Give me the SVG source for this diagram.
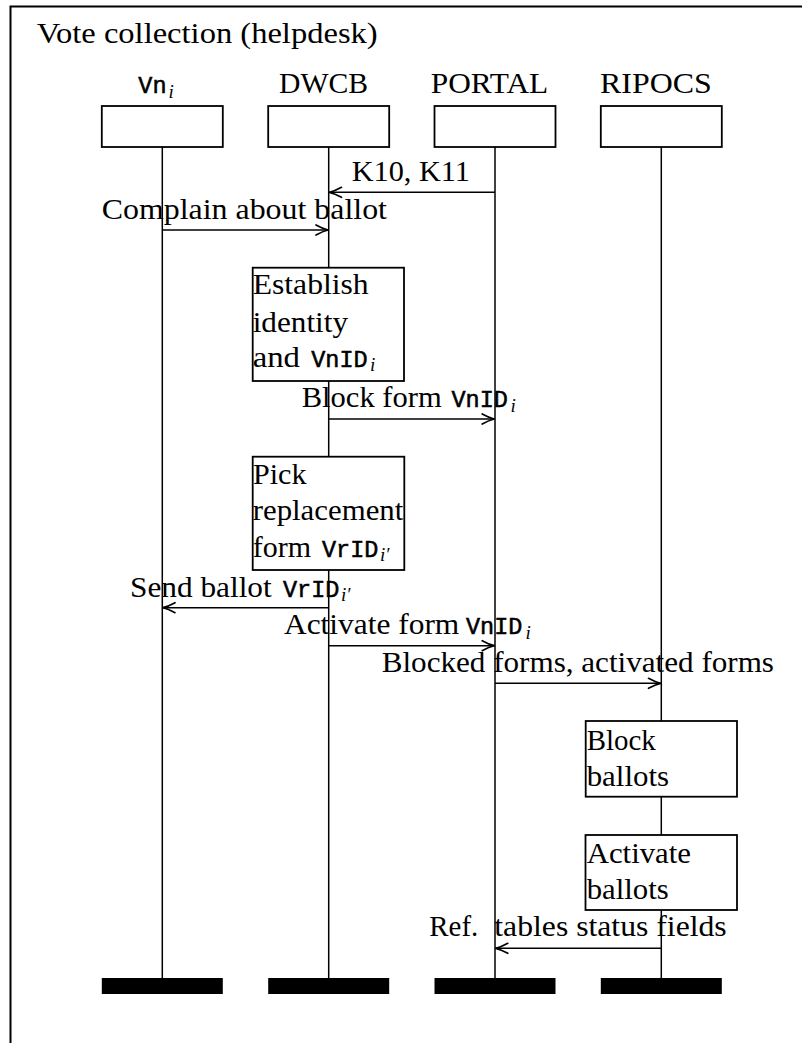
<svg xmlns="http://www.w3.org/2000/svg" width="802" height="1043" viewBox="0 0 802 1043">
  <style>
    .frame { fill: none; stroke: #000; stroke-width: 2; }
    .head { fill: #fff; stroke: #000; stroke-width: 1.8; }
    .act { fill: #fff; stroke: #000; stroke-width: 1.8; }
    .bar { fill: #000; stroke: none; }
    .life { stroke: #000; stroke-width: 1.5; fill: none; }
    .msg { stroke: #000; stroke-width: 1.5; fill: none; marker-end: url(#tip); }
    .t { font-family: "Liberation Serif", "Times New Roman", serif; font-size: 29px; fill: #000; }
    .m { font-family: "Liberation Mono", "DejaVu Sans Mono", monospace; font-size: 23.5px; font-style: normal; fill: #000; stroke: #000; stroke-width: 0.55; }
    .s { font-family: "Liberation Serif", "Times New Roman", serif; font-style: italic; font-size: 19px; fill: #000; stroke: none; }
  </style>
  <defs>
    <!-- curved open arrow tip -->
    <marker id="tip" markerUnits="userSpaceOnUse" viewBox="-13 -7 14 14" refX="0" refY="0" markerWidth="14" markerHeight="14" orient="auto" overflow="visible">
      <path d="M -12,-5 C -8,-2.8 -3.8,-0.9 0,0 C -3.8,0.9 -8,2.8 -12,5" fill="none" stroke="#000" stroke-width="1.7" stroke-linecap="round" stroke-linejoin="round"/>
    </marker>
  </defs>

  <rect x="0" y="0" width="802" height="1043" fill="#fff"/>

  <!-- outer frame, open to the right and bottom -->
  <path class="frame" d="M 10.5,1043 V 6.5 H 802"/>
  <text id="title" class="t" x="36.7" y="43.3" textLength="341" lengthAdjust="spacingAndGlyphs">Vote collection (helpdesk)</text>

  <!-- lifelines -->
  <g id="lifelines">
    <line class="life" x1="162.3" y1="147" x2="162.3" y2="978"/>
    <line class="life" x1="328.7" y1="147" x2="328.7" y2="978"/>
    <line class="life" x1="495" y1="147" x2="495" y2="978"/>
    <line class="life" x1="661.3" y1="147" x2="661.3" y2="978"/>
  </g>

  <!-- participants -->
  <g id="vn">
    <text y="93.3"><tspan class="m" x="138.3">Vn</tspan><tspan class="s" x="168.5" y="97.5">i</tspan></text>
    <rect class="head" x="101.8" y="106" width="121" height="41"/>
    <rect class="bar" x="101.8" y="978" width="121" height="16"/>
  </g>
  <g id="dwcb">
    <text class="t" x="279" y="93.3" textLength="89" lengthAdjust="spacingAndGlyphs">DWCB</text>
    <rect class="head" x="268.2" y="106" width="121" height="41"/>
    <rect class="bar" x="268.2" y="978" width="121" height="16"/>
  </g>
  <g id="portal">
    <text class="t" x="430.7" y="93.3" textLength="117.6" lengthAdjust="spacingAndGlyphs">PORTAL</text>
    <rect class="head" x="434.5" y="106" width="121" height="41"/>
    <rect class="bar" x="434.5" y="978" width="121" height="16"/>
  </g>
  <g id="ripocs">
    <text class="t" x="600" y="93.3" textLength="111.7" lengthAdjust="spacingAndGlyphs">RIPOCS</text>
    <rect class="head" x="600.8" y="106" width="121" height="41"/>
    <rect class="bar" x="600.8" y="978" width="121" height="16"/>
  </g>

  <!-- activity boxes -->
  <g id="establish">
    <rect class="act" x="252.7" y="267.7" width="151.3" height="113.3"/>
    <text class="t" x="252.7" y="294" textLength="116" lengthAdjust="spacingAndGlyphs">Establish</text>
    <text class="t" x="252.7" y="331.7" textLength="95.3" lengthAdjust="spacingAndGlyphs">identity</text>
    <text class="t" y="366.7"><tspan x="252.7" textLength="47.3" lengthAdjust="spacingAndGlyphs">and</tspan><tspan class="m" x="311.2">VnID</tspan><tspan class="s" x="370" y="371">i</tspan></text>
  </g>
  <g id="pick">
    <rect class="act" x="252.7" y="456.7" width="151.6" height="113.3"/>
    <text class="t" x="253" y="484" textLength="53.5" lengthAdjust="spacingAndGlyphs">Pick</text>
    <text class="t" x="252.7" y="520" textLength="150.6" lengthAdjust="spacingAndGlyphs">replacement</text>
    <text class="t" y="556.7"><tspan x="252.7" textLength="58.3" lengthAdjust="spacingAndGlyphs">form</tspan><tspan class="m" x="322">VrID</tspan><tspan class="s" x="380" y="561">i′</tspan></text>
  </g>
  <g id="block-ballots">
    <rect class="act" x="585.7" y="721" width="151.3" height="75.7"/>
    <text class="t" x="586.7" y="750" textLength="69" lengthAdjust="spacingAndGlyphs">Block</text>
    <text class="t" x="586.7" y="786" textLength="82.3" lengthAdjust="spacingAndGlyphs">ballots</text>
  </g>
  <g id="activate-ballots">
    <rect class="act" x="585.5" y="835" width="151.5" height="75"/>
    <text class="t" x="586.7" y="863.3" textLength="104.3" lengthAdjust="spacingAndGlyphs">Activate</text>
    <text class="t" x="586.7" y="899.3" textLength="82" lengthAdjust="spacingAndGlyphs">ballots</text>
  </g>

  <!-- messages -->
  <g id="connectors">
    <line class="msg" x1="495" y1="192.3" x2="329.5" y2="192.3"/>
    <text class="t" x="351.7" y="180.7" textLength="118.3" lengthAdjust="spacingAndGlyphs">K10, K11</text>

    <line class="msg" x1="162.3" y1="230" x2="328" y2="230"/>
    <text class="t" x="101.7" y="219.3" textLength="285.3" lengthAdjust="spacingAndGlyphs">Complain about ballot</text>

    <line class="msg" x1="328.7" y1="419" x2="494.2" y2="419"/>
    <text class="t" y="407"><tspan x="301.7" textLength="140" lengthAdjust="spacingAndGlyphs">Block form</tspan><tspan class="m" x="451.5">VnID</tspan><tspan class="s" x="510.5" y="411.5">i</tspan></text>

    <line class="msg" x1="328.7" y1="607.7" x2="163" y2="607.7"/>
    <text class="t" y="596.7"><tspan x="130" textLength="141.7" lengthAdjust="spacingAndGlyphs">Send ballot</tspan><tspan class="m" x="283">VrID</tspan><tspan class="s" x="341" y="601">i′</tspan></text>

    <line class="msg" x1="328.7" y1="645.7" x2="494.2" y2="645.7"/>
    <text class="t" y="634"><tspan x="284" textLength="175.3" lengthAdjust="spacingAndGlyphs">Activate form</tspan><tspan class="m" x="466">VnID</tspan><tspan class="s" x="525.5" y="638.5">i</tspan></text>

    <line class="msg" x1="495" y1="683.3" x2="660.5" y2="683.3"/>
    <text class="t" x="381.7" y="671.7" textLength="392.3" lengthAdjust="spacingAndGlyphs">Blocked forms, activated forms</text>

    <line class="msg" x1="661.3" y1="948.3" x2="495.8" y2="948.3"/>
    <text class="t" y="936"><tspan x="429.3" textLength="49" lengthAdjust="spacingAndGlyphs">Ref.</tspan><tspan x="494.3" textLength="232.4" lengthAdjust="spacingAndGlyphs">tables status fields</tspan></text>
  </g>
</svg>
